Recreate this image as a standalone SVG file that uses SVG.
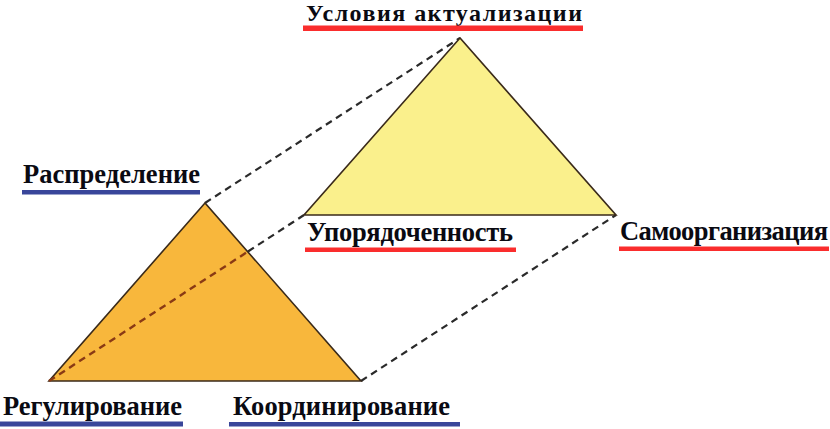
<svg xmlns="http://www.w3.org/2000/svg" width="830" height="429" viewBox="0 0 830 429">
<style>
.lbl{font-family:"Liberation Serif","DejaVu Serif","Times New Roman",serif;font-weight:bold;font-size:26.5px;fill:#0a0a12}
.lbl.top{font-size:24px}
.red{fill:#fa2d2d}
.blue{fill:#39469a}
.dash{stroke:#2a2a2a;stroke-width:2.2;stroke-dasharray:7 5;fill:none}
.dash-in{stroke:#8a3a14;stroke-width:2.4;stroke-dasharray:7 5;fill:none}
.tri{stroke:#3a2a1a;stroke-width:1.6;stroke-linejoin:miter}
</style>
<rect width="830" height="429" fill="#ffffff"/>
<g id="connectors">
<line class="dash" x1="205" y1="203" x2="460" y2="38"/>
<line class="dash" x1="361" y1="381" x2="616" y2="215"/>
</g>
<g id="orange-triangle">
<polygon class="tri" points="205,203 49,381 361,381" fill="#f8b73c"/>
</g>
<g id="connectors-front">
<line class="dash-in" x1="49" y1="381" x2="248" y2="251.5"/>
<line class="dash" x1="248" y1="251.5" x2="304" y2="215"/>
</g>
<g id="yellow-triangle">
<polygon class="tri" points="460,38 304,215 616,215" fill="#faf08c"/>
</g>
<g id="node-usloviya">
<text class="lbl top" x="306" y="21.2" textLength="276" lengthAdjust="spacing">Условия  актуализации</text>
<rect class="red" x="303" y="25.5" width="280" height="5.5"/>
</g>
<g id="node-raspredelenie">
<text class="lbl" x="23" y="183" textLength="177" lengthAdjust="spacing">Распределение</text>
<rect class="blue" x="22" y="190" width="178" height="4.5"/>
</g>
<g id="node-uporyadochennost">
<text class="lbl" x="307" y="241" textLength="206" lengthAdjust="spacing">Упорядоченность</text>
<rect class="red" x="305" y="247.5" width="211" height="4.5"/>
</g>
<g id="node-samoorganizatsiya">
<text class="lbl" x="620" y="240" textLength="208" lengthAdjust="spacing">Самоорганизация</text>
<rect class="red" x="619" y="246.5" width="210" height="4.5"/>
</g>
<g id="node-regulirovanie">
<text class="lbl" x="3" y="414.5" textLength="179" lengthAdjust="spacing">Регулирование</text>
<rect class="blue" x="0" y="421.5" width="183" height="5"/>
</g>
<g id="node-koordinirovanie">
<text class="lbl" x="233" y="415" textLength="217" lengthAdjust="spacing">Координирование</text>
<rect class="blue" x="229" y="422" width="231" height="4.5"/>
</g>
</svg>
